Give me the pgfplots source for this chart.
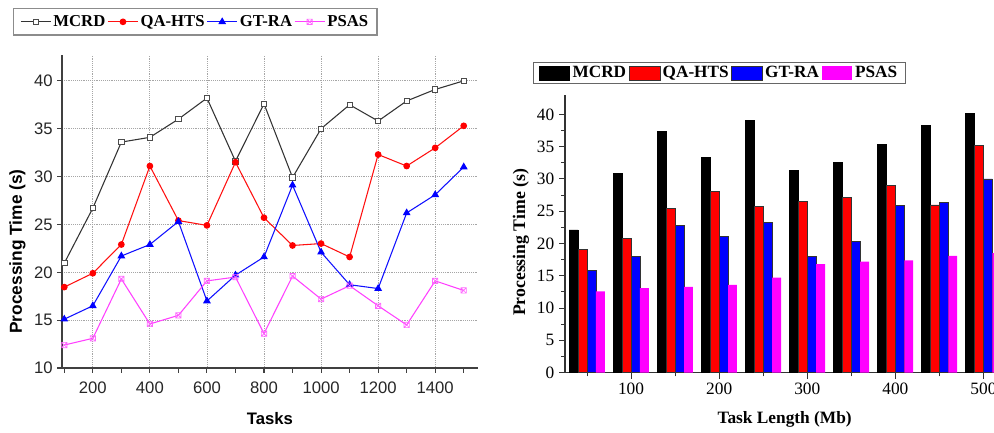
\documentclass[border=0pt]{standalone}
\usepackage{fontspec}
\setmainfont{Liberation Serif}
\newfontfamily\arialf{Liberation Sans}
\usepackage{pgfplots}
\usepackage{pgfplotstable}
\pgfplotsset{compat=1.18}

\pgfdeclareplotmark{sqx}{%
  \pgfpathrectangle{\pgfpoint{-\pgfplotmarksize}{-\pgfplotmarksize}}{\pgfpoint{2\pgfplotmarksize}{2\pgfplotmarksize}}%
  \pgfpathmoveto{\pgfpoint{-\pgfplotmarksize}{-\pgfplotmarksize}}%
  \pgfpathlineto{\pgfpoint{\pgfplotmarksize}{\pgfplotmarksize}}%
  \pgfpathmoveto{\pgfpoint{-\pgfplotmarksize}{\pgfplotmarksize}}%
  \pgfpathlineto{\pgfpoint{\pgfplotmarksize}{-\pgfplotmarksize}}%
  \pgfusepathqstroke}

\definecolor{mc}{HTML}{333333}
\definecolor{qa}{HTML}{FF1010}
\definecolor{gt}{HTML}{1010FF}
\definecolor{ps}{HTML}{FF40FF}
\definecolor{pmag}{HTML}{FF00FF}
\definecolor{pred}{HTML}{FF0000}
\definecolor{pblue}{HTML}{0000FF}

\pgfplotstableread{
x    MCRD  QA    GT    PS
100  20.95 18.45 15.1  12.4
200  26.7  19.9  16.5  13.1
300  33.6  22.9  21.7  19.3
400  34.1  31.1  22.9  14.6
500  36.0  25.4  25.3  15.5
600  38.2  24.9  17.0  19.1
700  31.6  31.5  19.7  19.5
800  37.6  25.7  21.6  13.6
900  29.9  22.8  29.1  19.6
1000 35.0  23.0  22.1  17.2
1100 37.5  21.6  18.7  18.6
1200 35.8  32.3  18.3  16.5
1300 37.9  31.1  26.2  14.5
1400 39.1  33.0  28.1  19.1
1500 40.0  35.3  31.0  18.1
}\lefttable

\pgfplotstableread{
x    MCRD  QA    GT    PS
50   22.1  19.1  15.8  12.6
100  30.9  20.8  18.0  13.1
150  37.4  25.5  22.8  13.3
200  33.3  28.1  21.1  13.6
250  39.1  25.8  23.3  14.7
300  31.3  26.5  18.0  16.8
350  32.6  27.1  20.3  17.2
400  35.3  29.0  25.9  17.4
450  38.3  26.0  26.4  18.1
500  40.1  35.2  30.0  18.5
}\righttable

\begin{document}
\begin{tikzpicture}
\useasboundingbox (0,0) rectangle (745.5pt,324pt);

% ---------------- left: line chart ----------------
\begin{axis}[
  at={(46.5pt,48pt)}, anchor=south west,
  scale only axis, width=312pt, height=234.75pt,
  xmin=92, xmax=1550, ymin=10, ymax=42.7,
  axis x line*=bottom, axis y line*=left,
  axis line style={-, line width=1pt, draw=black!75},
  xtick={200,400,...,1400}, minor xtick={100,300,...,1500},
  ytick={10,15,...,40},
  tick align=outside, major tick length=3.5pt, minor tick length=3.5pt,
  tick style={line width=0.8pt, black!75},
  grid=major, grid style={densely dotted, black!35, line width=0.6pt},
  scaled ticks=false,
  /pgf/number format/1000 sep={},
  /pgf/number format/assume math mode=true,
  ticklabel style={font=\arialf\fontsize{12.5}{14}\selectfont, black!85},
  xticklabel style={yshift=-3pt},
  xlabel={Tasks}, ylabel={Processing Time (s)},
  xlabel style={font=\arialf\bfseries\fontsize{12.5}{14}\selectfont, at={(axis description cs:0.5,-0.16)}, anchor=center},
  ylabel style={font=\arialf\bfseries\fontsize{13}{15}\selectfont, at={(axis description cs:-0.107,0.372)}, anchor=center},
  legend columns=4,
  legend style={at={(axis description cs:-0.1178,1.150)}, anchor=north west,
    draw=black!45, line width=0.9pt, fill=white,
    font=\bfseries\fontsize{12.5}{14}\selectfont,
    column sep=0pt, inner xsep=5pt, inner ysep=3pt,
    nodes={inner xsep=1.6pt, inner ysep=2pt}},
  legend image code/.code={\draw[mark repeat=2, mark phase=2, #1] plot coordinates {(0pt,0pt) (11.25pt,0pt) (22.5pt,0pt)};},
]
\addplot[mc, line width=0.8pt, mark=square*, mark size=2pt, mark options={fill=white, draw=black!70, line width=0.6pt}] table[x=x, y=MCRD] {\lefttable};
\addlegendentry{MCRD}
\addplot[qa, line width=0.8pt, mark=*, mark size=2.1pt, mark options={fill=pred, draw=pred}] table[x=x, y=QA] {\lefttable};
\addlegendentry{QA-HTS}
\addplot[gt, line width=0.8pt, mark=triangle*, mark size=2.6pt, mark options={fill=pblue, draw=pblue}] table[x=x, y=GT] {\lefttable};
\addlegendentry{GT-RA}
\addplot[ps, line width=0.8pt, mark=sqx, mark size=2pt, mark options={draw=ps!80, line width=0.5pt}] table[x=x, y=PS] {\lefttable};
\addlegendentry{PSAS}
\end{axis}

% ---------------- right: bar chart ----------------
\begin{axis}[
  at={(423.75pt,44.5pt)}, anchor=south west,
  scale only axis, width=321.75pt, height=208.25pt,
  xmin=25, xmax=512, ymin=0, ymax=43,
  axis x line*=bottom, axis y line*=left,
  axis line style={-, line width=0.9pt, draw=black!80},
  ybar=0pt, bar width=6.675pt,
  xtick={100,200,...,500}, minor xtick={50,150,...,450},
  ytick={0,5,...,40}, minor y tick num=1,
  tick align=outside, major tick length=4.5pt, minor tick length=2.8pt,
  tick style={line width=0.8pt, black!80},
  scaled ticks=false,
  /pgf/number format/1000 sep={},
  /pgf/number format/assume math mode=true,
  ticklabel style={font=\fontsize{13}{15}\selectfont},
  xlabel={Task Length (Mb)}, ylabel={Processing Time (s)},
  xlabel style={font=\bfseries\fontsize{13}{15}\selectfont, at={(axis description cs:0.512,-0.170)}, anchor=center},
  ylabel style={font=\bfseries\fontsize{13.3}{15}\selectfont, at={(axis description cs:-0.103,0.469)}, anchor=center},
  legend columns=4,
  legend style={at={(axis description cs:-0.0746,1.119)}, anchor=north west,
    draw=black!60, line width=0.7pt, fill=white,
    font=\bfseries\fontsize{12.9}{14}\selectfont,
    column sep=0pt, inner xsep=4pt, inner ysep=1.2pt,
    nodes={inner xsep=2pt, inner ysep=1.8pt}},
  legend image code/.code={\path[#1] (0pt,-5.25pt) rectangle (23pt,5.25pt);},
]
\addplot[fill=black, draw=black, line width=0.4pt] table[x=x, y=MCRD] {\righttable};
\addlegendentry{MCRD}
\addplot[fill=pred, draw=black!80, line width=0.4pt] table[x=x, y=QA] {\righttable};
\addlegendentry{QA-HTS}
\addplot[fill=pblue, draw=black!80, line width=0.4pt] table[x=x, y=GT] {\righttable};
\addlegendentry{GT-RA}
\addplot[fill=pmag, draw=none] table[x=x, y=PS] {\righttable};
\addlegendentry{PSAS}
\end{axis}
\end{tikzpicture}
\end{document}
